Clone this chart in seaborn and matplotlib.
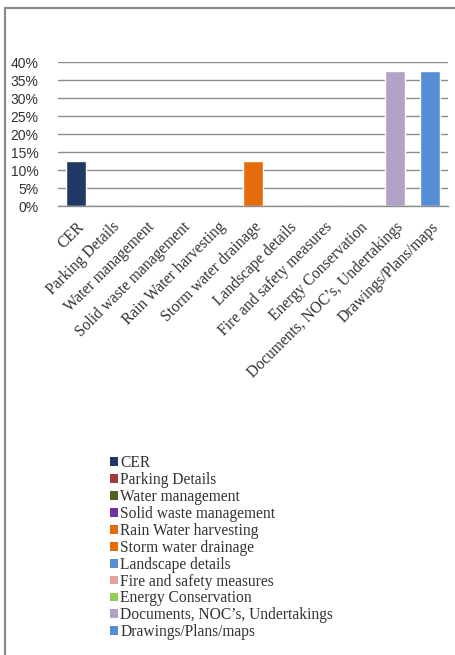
import matplotlib
matplotlib.use("Agg")
import matplotlib.pyplot as plt
import seaborn as sns
import pandas as pd
from matplotlib.patches import Patch
from matplotlib.lines import Line2D
from matplotlib.ticker import PercentFormatter

categories = ["CER", "Parking Details", "Water management", "Solid waste management",
              "Rain Water harvesting", "Storm water drainage", "Landscape details",
              "Fire and safety measures", "Energy Conservation",
              "Documents, NOC\u2019s, Undertakings", "Drawings/Plans/maps"]
values = [0.125, 0, 0, 0, 0, 0.125, 0, 0, 0, 0.375, 0.375]
colors = ["#1F3864", "#A33B3B", "#4F6228", "#7030A0", "#E46C0A", "#E46C0A",
          "#558ED5", "#E6A1A1", "#92D050", "#B3A2C7", "#558ED5"]
yticks = [0, 0.05, 0.10, 0.15, 0.20, 0.25, 0.30, 0.35, 0.40]

sns.set_theme(style="white")
df = pd.DataFrame({"category": categories, "value": values})
W, H = 456, 655
fig = plt.figure(figsize=(W / 100, H / 100), dpi=100)
ax = fig.add_axes([58 / W, 1 - 206 / H, (448 - 58) / W, (206 - 62) / H])

sns.barplot(data=df, x="category", y="value", hue="category",
            palette=dict(zip(categories, colors)), dodge=False,
            width=0.57, legend=False, ax=ax, saturation=1)

ax.set_ylim(0, 0.40)
ax.set_yticks(yticks)
ax.yaxis.set_major_formatter(PercentFormatter(1.0, decimals=0))
ax.grid(axis="y", color="#8c8c8c", linewidth=1.0)
ax.set_axisbelow(True)
for s in ["top", "right", "left"]:
    ax.spines[s].set_visible(False)
ax.spines["bottom"].set_color("#8c8c8c")
ax.spines["bottom"].set_linewidth(1.0)
ax.set_xlabel("")
ax.set_ylabel("")
ax.tick_params(axis="y", length=0, pad=14, labelsize=10, labelcolor="#333333")
ax.tick_params(axis="x", length=0, pad=9.5)
for lbl in ax.get_yticklabels():
    lbl.set_fontfamily("Liberation Sans")
ax.set_xticks(range(len(categories)))
ax.set_xticklabels(categories, rotation=45, ha="right", rotation_mode="anchor",
                   fontfamily="Liberation Serif", fontsize=11.2, color="#333333")
ax.set_xlim(-0.5, len(categories) - 0.5)

handles = [Patch(facecolor=c, edgecolor="none") for c in colors]
fig.legend(handles, categories, loc="upper left",
           bbox_to_anchor=(110 / W, 1 - 455 / H), frameon=False,
           prop={"family": "Liberation Serif", "size": 11.2},
           handlelength=0.5, handleheight=0.5, handletextpad=0.15,
           labelspacing=0.06, borderaxespad=0, borderpad=0,
           labelcolor="#333333")

fig.add_artist(Line2D([5.5 / W, 5.5 / W], [0, 1 - 8 / H], transform=fig.transFigure,
                      color="#8c8c8c", linewidth=1.6))
fig.add_artist(Line2D([5.5 / W, 1], [1 - 8 / H, 1 - 8 / H], transform=fig.transFigure,
                      color="#8c8c8c", linewidth=1.6))

fig.savefig("out.png", dpi=100)
